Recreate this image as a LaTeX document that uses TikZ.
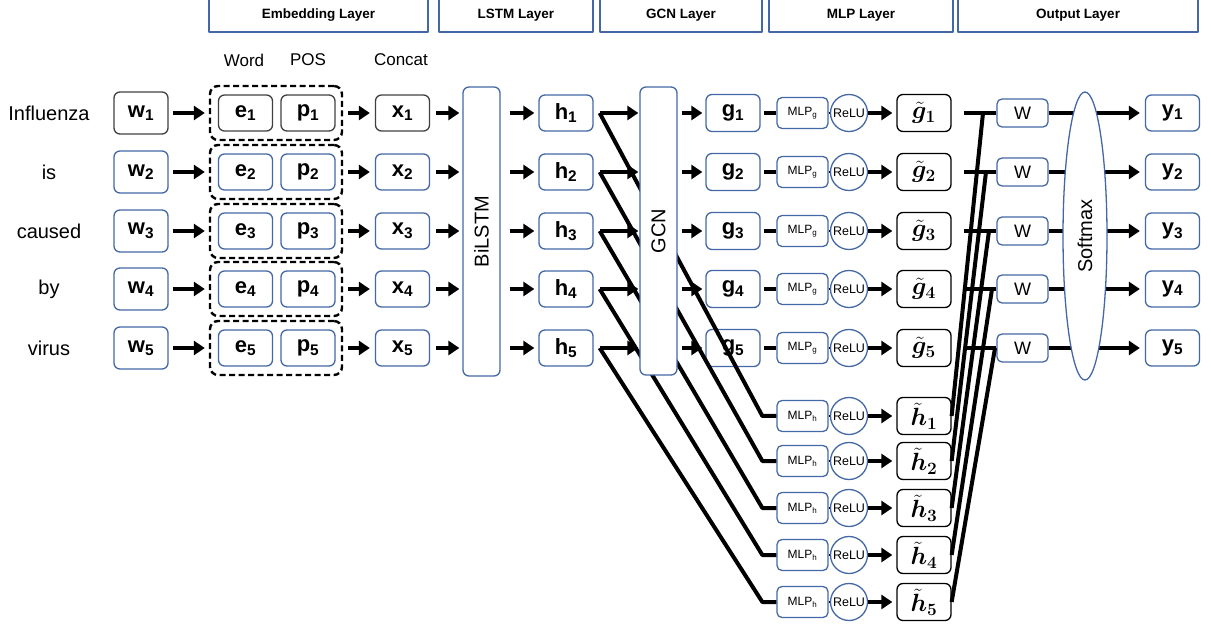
\documentclass[tikz,border=0pt]{standalone}
\usepackage{fontspec}
\setmainfont{Liberation Sans}
\usepackage{bm}
\usepackage{graphicx}
\usetikzlibrary{arrows.meta,shapes.geometric}
\definecolor{boxblue}{RGB}{68,104,166}
\definecolor{boxgray}{RGB}{64,64,64}

\tikzset{
  cell/.style={draw=boxblue, line width=1.3pt, rounded corners=6pt, inner sep=0pt,
    minimum width=54pt, minimum height=36pt, font=\fontsize{22}{24}\selectfont\bfseries},
  tilcell/.style={cell, draw=black, minimum height=37pt, font=\fontsize{25}{28}\selectfont},
  grp/.style={draw=black, line width=2.4pt, dash pattern=on 6pt off 3.5pt,
    rounded corners=8pt, minimum width=132pt, minimum height=54pt, inner sep=0pt},
  tall/.style={draw=boxblue, line width=1.3pt, rounded corners=6pt, fill=white,
    minimum width=37pt, minimum height=289pt, inner sep=0pt, font=\fontsize{20}{24}\selectfont},
  mlp/.style={draw=boxblue, line width=1.3pt, rounded corners=5pt, inner sep=0pt,
    minimum width=51pt, minimum height=31pt, font=\fontsize{12}{14}\selectfont},
  relu/.style={draw=boxblue, line width=1.3pt, circle, inner sep=0pt,
    minimum size=37pt, font=\fontsize{12.5}{14}\selectfont},
  wbox/.style={mlp, minimum height=28pt, font=\fontsize{18}{20}\selectfont},
  head/.style={draw=boxblue, line width=1.2pt, minimum height=34pt, inner sep=0pt,
    font=\fontsize{13.5}{16}\selectfont\bfseries},
  word/.style={font=\fontsize{20}{24}\selectfont, inner sep=0pt},
  ctitle/.style={font=\fontsize{17}{20}\selectfont, inner sep=0pt},
  tline/.style={line width=4pt},
  arr/.style={line width=4pt, -{Triangle[length=11pt,width=14pt]}},
}

\begin{document}
\begin{tikzpicture}[x=1pt, y=-1pt, line join=round]
    \useasboundingbox (0,0) rectangle (1211,628);

    % layer titles
    \foreach \n/\cx/\w/\t in {le/318.5/219/Embedding Layer, ll/516/154/LSTM Layer,
        lg/681/162/GCN Layer, lm/861/184/MLP Layer, lo/1078/240/Output Layer}
      \node[head, minimum width=\w pt] (\n) at (\cx,15) {\t};

    % column titles
    \node[ctitle] (tw) at (244,60) {Word};
    \node[ctitle] (tp) at (308,60) {POS};
    \node[ctitle] (tc) at (401,60) {Concat};

    \node[tall] (lstm) at (481.5,231.5) {\rotatebox{90}{BiLSTM}};

    % one row per token
    \foreach \i/\y/\t in {1/113/Influenza, 2/172/is, 3/231/caused, 4/289/by, 5/348/virus} {
      \ifnum\i=1 \def\bc{boxgray}\else\def\bc{boxblue}\fi
      \node[word] (t\i) at (49,\y) {\t};
      \node[cell, draw=\bc, minimum height=42pt] (w\i) at (141,\y) {w\textsubscript{\i}};
      \node[grp] (d\i) at (276,\y) {};
      \node[cell, draw=\bc] (e\i) at (245.5,\y) {e\textsubscript{\i}};
      \node[cell, draw=\bc] (p\i) at (308,\y) {p\textsubscript{\i}};
      \node[cell, draw=\bc] (x\i) at (402.5,\y) {x\textsubscript{\i}};
      \node[cell] (h\i) at (566,\y) {h\textsubscript{\i}};
      \node[cell, minimum height=37pt] (g\i) at (733,\y) {g\textsubscript{\i}};
      \node[mlp] (mg\i) at (802.5,\y) {MLP\textsubscript{g}};
      \node[relu] (rg\i) at (849,\y) {ReLU};
      \node[tilcell] (gt\i) at (924,\y) {$\bm{\tilde{g}}_{\bm{\i}}$};
      \node[wbox] (W\i) at (1022.5,\y) {W};
      \node[cell] (y\i) at (1172.5,\y) {y\textsubscript{\i}};
      \coordinate (c\i) at (980+3*\i,\y);
      \coordinate (j\i) at ([xshift=6pt]h\i.east);

      \draw[arr, shorten <=4pt, shorten >=4pt] (w\i) -- (d\i);
      \draw[arr, shorten <=5pt, shorten >=5pt] (d\i) -- (x\i);
      \draw[arr, shorten <=6pt, shorten >=3pt] (x\i) -- (x\i -| lstm.west);
      \draw[arr, shorten <=9pt, shorten >=4pt] (h\i -| lstm.east) -- (h\i);
      \draw[tline, shorten <=3pt] (g\i) -- (mg\i);
      \draw[line width=2pt] (mg\i.east) -- (rg\i.west);
      \draw[arr, shorten >=4pt] (rg\i) -- (gt\i);
      \draw[tline, shorten <=12pt] (gt\i) -- (W\i);
      \draw[arr, shorten >=5pt] (W\i) -- (y\i);
    }

    % hidden-state branch
    \foreach \i/\y in {1/416, 2/461, 3/508, 4/555, 5/602} {
      \node[mlp] (mh\i) at (802.5,\y) {MLP\textsubscript{h}};
      \node[relu] (rh\i) at (849,\y) {ReLU};
      \node[tilcell] (ht\i) at (924,\y) {$\bm{\tilde{h}}_{\bm{\i}}$};
      \draw[line width=2pt] (mh\i.east) -- (rh\i.west);
      \draw[arr, shorten >=4pt] (rh\i) -- (ht\i);
      \draw[tline] (j\i) -- ([xshift=-14pt]mh\i.west) -- (mh\i.west);
      \draw[tline] (ht\i.east) -- (c\i);
    }

    % graph block sits over the skip lines
    \node[tall, minimum height=288pt] (gcn) at (658.5,231) {\rotatebox{90}{GCN}};
    \foreach \i in {1,...,5} {
      \draw[arr, shorten >=1pt] (j\i) -- (j\i -| gcn.west);
      \draw[arr, shorten <=4pt, shorten >=3pt] (g\i -| gcn.east) -- (g\i);
    }

    \node[draw=boxblue, line width=1.3pt, ellipse, fill=white, inner sep=0pt,
      minimum width=44pt, minimum height=288pt, font=\fontsize{20}{24}\selectfont]
      (smax) at (1085,236) {\rotatebox{90}{Softmax}};
\end{tikzpicture}
\end{document}
